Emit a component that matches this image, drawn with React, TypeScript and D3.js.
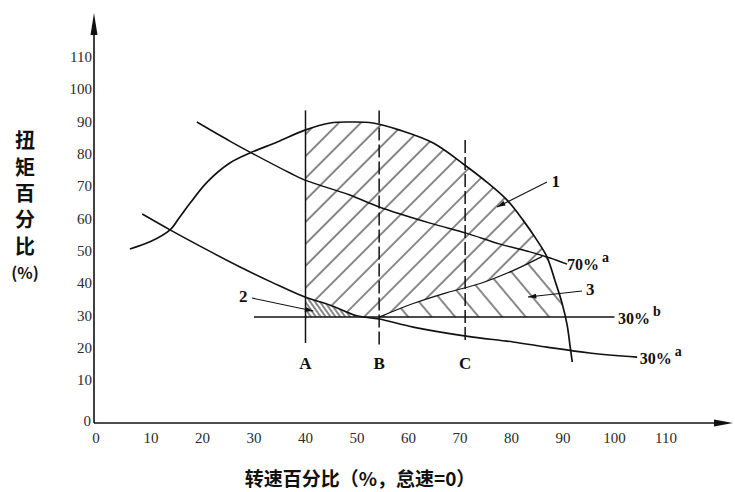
import React from 'react';
import * as d3 from 'd3';

// ---- data (speed %, torque %) ----
const xTicks = [0, 10, 20, 30, 40, 50, 60, 70, 80, 90, 100, 110];
const yTicks = [10, 20, 30, 40, 50, 60, 70, 80, 90, 100, 110];

const fullSpeed = [5.9, 9.8, 13.7, 15.6, 17.6, 20.9, 25.3, 29.2, 34.5, 39.9, 44.8, 48.6, 53.1, 58.3, 64.8, 70.9, 75.2, 79.1, 82.2, 84.9, 86.9, 88.4, 89.8, 90.8, 91.4, 91.8];
const fullTorque = [51.1, 53.3, 57.0, 61.0, 65.3, 71.8, 77.7, 80.8, 84.2, 87.9, 90.1, 90.4, 90.1, 87.9, 83.9, 77.1, 71.8, 66.3, 60.1, 53.9, 48.6, 41.5, 34.4, 27.6, 20.7, 16.1];

const p70Speed = [18.9, 25.3, 29.2, 37.0, 39.9, 48.6, 54.3, 64.2, 71.2, 77.8, 83.6, 87.5, 90.8];
const p70Torque = [90.4, 84.5, 81.1, 74.6, 72.4, 67.8, 64.1, 59.1, 56.0, 52.6, 50.2, 48.3, 46.4];

const p30aSpeed = [8.3, 13.7, 20.9, 27.3, 33.7, 39.9, 44.8, 50.0, 54.3, 60.9, 71.2, 80.3, 86.9, 95.2, 104.4];
const p30aTorque = [61.9, 57.0, 50.8, 45.5, 40.6, 36.2, 33.7, 30.4, 29.4, 26.9, 24.1, 22.3, 20.7, 18.9, 17.6];

const c3Speed = [54.3, 60.9, 67.5, 73.9, 80.3, 86.0];
const c3Torque = [30.0, 34.2, 37.6, 40.4, 44.4, 48.8];

const p30bSpeed = [30, 100];
const p30bTorque = 30;

const speedA = 40, speedB = 54.3, speedC = 71.0;
const vTop = [94, 94, 84.8];
const vBottom = [22, 21, 22];

const W = 735, H = 492;
const AXIS_Y = 423, AXIS_X = 94;

const x = d3.scaleLinear().domain([0, 110]).range([99.5, 666]);
const y = d3.scaleLinear().domain([0, 110]).range([414, 58.7]);

const zip = (a: number[], b: number[]) => a.map((v, i) => [v, b[i]] as [number, number]);
const lineGen = d3.line<[number, number]>().x(d => x(d[0])).y(d => y(d[1])).curve(d3.curveCatmullRom.alpha(0.5));
const P = (s: number, t: number) => `${x(s)},${y(t)}`;

const fullPts = zip(fullSpeed, fullTorque);
const p70Pts = zip(p70Speed, p70Torque);
const p30aPts = zip(p30aSpeed, p30aTorque);
const c3Pts = zip(c3Speed, c3Torque);

export default function App() {
  const fullD = lineGen(fullPts)!;
  const underFull = fullD + `L${P(fullSpeed[fullSpeed.length - 1], 0)}L${P(fullSpeed[0], 0)}Z`;
  const above30a = lineGen(p30aPts)! + `L${P(110, 110)}L${P(0, 110)}Z`;
  const below30a = lineGen(p30aPts)! + `L${P(110, 0)}L${P(0, 0)}Z`;
  const aboveC3 = lineGen(c3Pts)! + `L${P(95, 49)}L${P(95, 110)}L${P(0, 110)}L${P(0, 30)}Z`;
  const region3 = lineGen(c3Pts)! + `L${P(95, 49)}L${P(95, 30)}Z`;

  const ink = '#111';
  const serif = '"Liberation Serif", "DejaVu Serif", serif';
  const cjk = '"Noto Sans CJK SC", sans-serif';
  const yTitle = ['扭', '矩', '百', '分', '比'];

  return (
    <svg width={W} height={H} style={{ position: 'absolute', left: 0, top: 0, background: '#fff' }}>
      <defs>
        <pattern id="h1" width={15.5} height={15.5} patternUnits="userSpaceOnUse" patternTransform="rotate(45)">
          <line x1={1} y1={0} x2={1} y2={15.5} stroke={ink} strokeWidth={1} />
        </pattern>
        <pattern id="h3" width={18} height={18} patternUnits="userSpaceOnUse" patternTransform="rotate(-40)">
          <line x1={1} y1={0} x2={1} y2={18} stroke={ink} strokeWidth={1} />
        </pattern>
        <pattern id="h2" width={4} height={4} patternUnits="userSpaceOnUse" patternTransform="rotate(-35)">
          <line x1={1} y1={0} x2={1} y2={4} stroke={ink} strokeWidth={1} />
        </pattern>
        <clipPath id="cUnderFull"><path d={underFull} /></clipPath>
        <clipPath id="cAbove30a"><path d={above30a} /></clipPath>
        <clipPath id="cBelow30a"><path d={below30a} /></clipPath>
        <clipPath id="cAboveC3"><path d={aboveC3} /></clipPath>
        <clipPath id="cRightA"><rect x={x(speedA)} y={0} width={W} height={H} /></clipPath>
        <marker id="arr" viewBox="0 0 10 6" refX={10} refY={3} markerWidth={9} markerHeight={5} orient="auto" markerUnits="userSpaceOnUse">
          <path d="M0,0L10,3L0,6Z" fill={ink} />
        </marker>
      </defs>

      {/* hatched regions */}
      <g clipPath="url(#cUnderFull)">
        <g clipPath="url(#cRightA)">
          <g clipPath="url(#cAbove30a)">
            <g clipPath="url(#cAboveC3)">
              <rect x={x(speedA)} y={y(100)} width={x(100) - x(speedA)} height={y(20) - y(100)} fill="url(#h1)" />
            </g>
          </g>
        </g>
        <path d={region3} fill="url(#h3)" />
      </g>
      <g clipPath="url(#cBelow30a)">
        <rect x={x(speedA)} y={y(40)} width={x(speedB) - x(speedA)} height={y(30) - y(40)} fill="url(#h2)" />
      </g>

      {/* curves */}
      <path d={fullD} fill="none" stroke={ink} strokeWidth={1.7} />
      <path d={lineGen(p70Pts)!} fill="none" stroke={ink} strokeWidth={1.5} />
      <path d={lineGen(p30aPts)!} fill="none" stroke={ink} strokeWidth={1.6} />
      <path d={lineGen(c3Pts)!} fill="none" stroke={ink} strokeWidth={1.2} />
      <line x1={x(p30bSpeed[0])} x2={x(p30bSpeed[1])} y1={y(p30bTorque)} y2={y(p30bTorque)} stroke={ink} strokeWidth={1.5} />

      {/* vertical speed lines */}
      {[speedA, speedB, speedC].map((s, i) => (
        <line key={i} x1={x(s)} x2={x(s)} y1={y(vTop[i])} y2={y(vBottom[i])} stroke={ink} strokeWidth={1.5}
          strokeDasharray={i === 0 ? undefined : '13,4'} />
      ))}
      {['A', 'B', 'C'].map((l, i) => (
        <text key={l} x={x([speedA, speedB, speedC][i])} y={y(15.2)} textAnchor="middle" dominantBaseline="middle"
          fontFamily={serif} fontWeight="bold" fontSize={17} fill={ink}>{l}</text>
      ))}

      {/* leaders */}
      <line x1={x(86.9)} y1={y(71.8)} x2={x(77.2)} y2={y(64.1)} stroke={ink} strokeWidth={1.1} markerEnd="url(#arr)" />
      <line x1={x(29.6)} y1={y(35.9)} x2={x(41.5)} y2={y(31.9)} stroke={ink} strokeWidth={1.1} markerEnd="url(#arr)" />
      <line x1={x(93.7)} y1={y(38.1)} x2={x(83.2)} y2={y(36.2)} stroke={ink} strokeWidth={1.1} markerEnd="url(#arr)" />
      <text x={x(88.6)} y={y(71.6)} textAnchor="middle" dominantBaseline="middle" fontFamily={serif} fontWeight="bold" fontSize={17} fill={ink}>1</text>
      <text x={x(27.9)} y={y(36.0)} textAnchor="middle" dominantBaseline="middle" fontFamily={serif} fontWeight="bold" fontSize={17} fill={ink}>2</text>
      <text x={x(95.3)} y={y(37.9)} textAnchor="middle" dominantBaseline="middle" fontFamily={serif} fontWeight="bold" fontSize={17} fill={ink}>3</text>

      {/* series labels */}
      <text x={x(90.8)} y={y(46.4) + 6} fontFamily={serif} fontWeight="bold" fontSize={16} fill={ink}>70%<tspan dx={3} dy={-8} fontSize={14}>a</tspan></text>
      <text x={x(100.7)} y={y(30) + 7} fontFamily={serif} fontWeight="bold" fontSize={16} fill={ink}>30%<tspan dx={3} dy={-8} fontSize={14}>b</tspan></text>
      <text x={x(104.9)} y={y(17.6) + 7} fontFamily={serif} fontWeight="bold" fontSize={16} fill={ink}>30%<tspan dx={3} dy={-8} fontSize={14}>a</tspan></text>

      {/* axes */}
      <line x1={AXIS_X} x2={AXIS_X} y1={AXIS_Y} y2={30} stroke={ink} strokeWidth={1.6} />
      <path d={`M${AXIS_X},13L${AXIS_X - 3.5},35L${AXIS_X + 3.5},35Z`} fill={ink} />
      <line x1={AXIS_X} x2={716} y1={AXIS_Y} y2={AXIS_Y} stroke={ink} strokeWidth={1.6} />
      <path d={`M733,${AXIS_Y}L714,${AXIS_Y - 3.5}L714,${AXIS_Y + 3.5}Z`} fill={ink} />

      {xTicks.map(t => (
        <text key={t} x={t === 0 ? AXIS_X + 2 : x(t)} y={AXIS_Y + 17} textAnchor="middle" dominantBaseline="middle"
          fontFamily={serif} fontSize={15} fill="#2a2a2a">{t}</text>
      ))}
      <text x={AXIS_X - 3} y={AXIS_Y} textAnchor="end" dominantBaseline="middle" fontFamily={serif} fontSize={15} fill="#2a2a2a">0</text>
      {yTicks.map(t => (
        <text key={t} x={AXIS_X - 2} y={y(t)} textAnchor="end" dominantBaseline="middle"
          fontFamily={serif} fontSize={15} fill="#2a2a2a">{t}</text>
      ))}

      {/* axis titles */}
      {yTitle.map((c, i) => (
        <text key={c} x={25} y={143 + i * 26.3} textAnchor="middle" dominantBaseline="middle"
          fontFamily={cjk} fontWeight="bold" fontSize={20} fill={ink}>{c}</text>
      ))}
      <text x={25} y={275} textAnchor="middle" dominantBaseline="middle" fontFamily={cjk} fontWeight="bold" fontSize={16} fill={ink}>(%)</text>
      <text x={360} y={481} textAnchor="middle" dominantBaseline="middle" fontFamily={cjk} fontWeight="bold" fontSize={19} fill={ink}>转速百分比（%，怠速=0）</text>
    </svg>
  );
}
